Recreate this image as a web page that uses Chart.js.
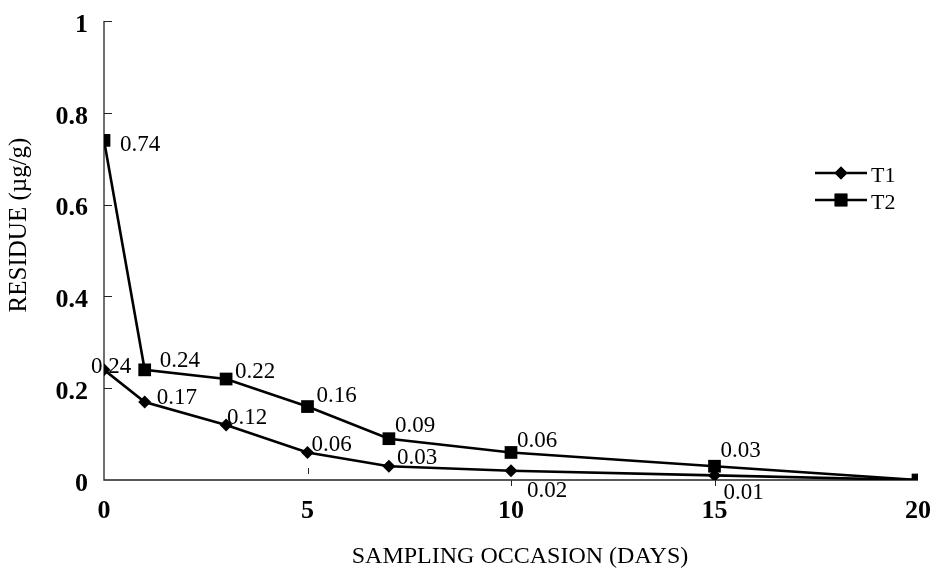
<!DOCTYPE html>
<html>
<head>
<meta charset="utf-8">
<script src="https://cdn.jsdelivr.net/npm/chart.js@4/dist/chart.umd.min.js"></script>
<style>
html,body{margin:0;padding:0;background:#fff;}
#wrap{width:933px;height:570px;position:relative;}
</style>
</head>
<body>
<div id="wrap"><canvas id="c" width="933" height="570"></canvas></div>
<script>
const days = [0, 1, 3, 5, 7, 10, 15, 20];
const t1Values = [0.24, 0.17, 0.12, 0.06, 0.03, 0.02, 0.01, 0];
const t2Values = [0.74, 0.24, 0.22, 0.16, 0.09, 0.06, 0.03, 0];
const t1Labels = ['0.24', '0.17', '0.12', '0.06', '0.03', '0.02', '0.01', ''];
const t2Labels = ['0.74', '0.24', '0.22', '0.16', '0.09', '0.06', '0.03', ''];
const xTicks = [0, 5, 10, 15, 20];
const yTicks = [0, 0.2, 0.4, 0.6, 0.8, 1];
const seriesNames = ['T1', 'T2'];
const xTitle = 'SAMPLING OCCASION (DAYS)';
const yTitle = 'RESIDUE (µg/g)';

// label offsets (px) relative to each point: [dx(left edge), dy(center)]
const t1Off = [[-13,-3],[12,-4],[1,-7],[4,-8],[8,-8],[16,20],[9,18],[0,0]];
const t2Off = [[16,5],[15,-9],[9,-7],[9,-11],[6,-13],[6,-12],[6,-15],[0,0]];

const serif = '"Liberation Serif", "Times New Roman", serif';

const toPts = (vals) => days.map((d, i) => ({x: d, y: vals[i]}));

const customDraw = {
  id: 'customDraw',
  beforeDatasetsDraw(chart) {
    const ctx = chart.ctx;
    const xs = chart.scales.x, ys = chart.scales.y;
    ctx.save();
    ctx.strokeStyle = '#222';
    ctx.lineWidth = 1.3;
    ctx.beginPath();
    ctx.moveTo(xs.left, ys.getPixelForValue(1));
    ctx.lineTo(xs.left, ys.getPixelForValue(0));
    ctx.lineTo(xs.right, ys.getPixelForValue(0));
    ctx.stroke();
    ctx.lineWidth = 1;
    yTicks.forEach(v => {
      if (v === 0) return;
      const py = Math.round(ys.getPixelForValue(v)) + 0.5;
      ctx.beginPath();
      ctx.moveTo(xs.left, py);
      ctx.lineTo(xs.left + 8, py);
      ctx.stroke();
    });
    const y0 = ys.getPixelForValue(0);
    xTicks.forEach(v => {
      if (v === 0 || v === 20) return;
      const px = Math.round(xs.getPixelForValue(v)) + 0.5;
      ctx.beginPath();
      if (v === 5) { ctx.moveTo(px, y0 - 12); ctx.lineTo(px, y0 - 6); }
      else { ctx.moveTo(px, y0); ctx.lineTo(px, y0 + 6); }
      ctx.stroke();
    });
    ctx.restore();
  },
  afterDatasetsDraw(chart) {
    const ctx = chart.ctx;
    const xs = chart.scales.x, ys = chart.scales.y;
    ctx.save();
    ctx.fillStyle = '#000';
    ctx.font = '23px ' + serif;
    ctx.textBaseline = 'middle';
    ctx.textAlign = 'left';
    const sets = [[t1Values, t1Labels, t1Off], [t2Values, t2Labels, t2Off]];
    sets.forEach(([vals, labs, offs]) => {
      vals.forEach((v, i) => {
        if (!labs[i]) return;
        const px = xs.getPixelForValue(days[i]);
        const py = ys.getPixelForValue(v);
        ctx.fillText(labs[i], px + offs[i][0], py + offs[i][1]);
      });
    });
    const lx = 815, ly = [173, 200];
    chart.data.datasets.forEach((ds, i) => {
      ctx.strokeStyle = '#000';
      ctx.lineWidth = 2.5;
      ctx.beginPath();
      ctx.moveTo(lx, ly[i]);
      ctx.lineTo(lx + 52, ly[i]);
      ctx.stroke();
      Chart.helpers.drawPoint(ctx, {pointStyle: ds.pointStyle, radius: ds.pointRadius, borderWidth: 0}, lx + 26, ly[i]);
      ctx.fillStyle = '#000';
      ctx.fill();
      ctx.font = '22px ' + serif;
      ctx.textBaseline = 'middle';
      ctx.textAlign = 'left';
      ctx.fillText(seriesNames[i], lx + 56, ly[i] + 3);
    });
    ctx.font = '24px ' + serif;
    ctx.textAlign = 'center';
    ctx.textBaseline = 'middle';
    ctx.fillText(xTitle, 520, 557);
    ctx.translate(19, 225);
    ctx.rotate(-Math.PI / 2);
    ctx.font = '25px ' + serif;
    ctx.fillText(yTitle, 0, 0);
    ctx.restore();
  }
};

new Chart(document.getElementById('c'), {
  type: 'line',
  data: {
    datasets: [
      {label: seriesNames[0], data: toPts(t1Values), borderColor: '#000', backgroundColor: '#000',
       borderWidth: 2.6, pointStyle: 'rectRot', pointRadius: 6.5, pointBorderWidth: 0, tension: 0},
      {label: seriesNames[1], data: toPts(t2Values), borderColor: '#000', backgroundColor: '#000',
       borderWidth: 2.6, pointStyle: 'rect', pointRadius: 9, pointBorderWidth: 0, tension: 0}
    ]
  },
  options: {
    responsive: false,
    animation: false,
    events: [],
    layout: {padding: {top: 21, right: 15, left: 0, bottom: 0}},
    plugins: {legend: {display: false}, tooltip: {enabled: false}},
    scales: {
      x: {
        type: 'linear', min: 0, max: 20,
        afterBuildTicks: (s) => { s.ticks = xTicks.map(v => ({value: v})); },
        afterFit: (s) => { s.height = 90; s.paddingLeft = 0; s.paddingRight = 0; },
        grid: {display: false, drawTicks: false},
        border: {display: false},
        ticks: {color: '#000', font: {family: serif, size: 26, weight: 'bold'}, padding: 16, maxRotation: 0, autoSkip: false}
      },
      y: {
        type: 'linear', min: 0, max: 1,
        afterBuildTicks: (s) => { s.ticks = yTicks.map(v => ({value: v})); },
        afterFit: (s) => { s.width = 104; s.paddingTop = 0; s.paddingBottom = 0; },
        grid: {display: false, drawTicks: false},
        border: {display: false},
        ticks: {color: '#000', font: {family: serif, size: 26, weight: 'bold'}, padding: 16, labelOffset: 4,
                callback: (v) => String(v)}
      }
    }
  },
  plugins: [customDraw]
});
</script>
</body>
</html>
